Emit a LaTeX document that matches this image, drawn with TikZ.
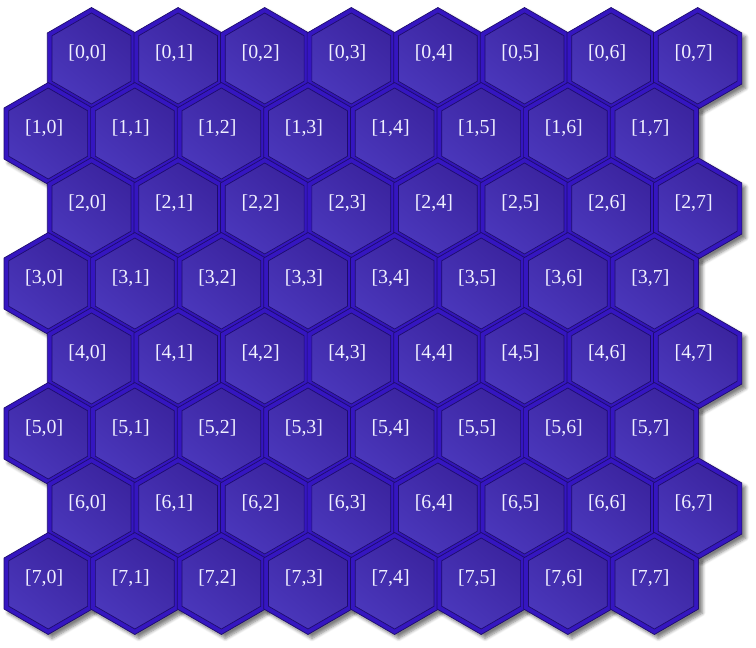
\documentclass[tikz,border=0pt]{standalone}
\usepackage{fontspec}
\setmainfont{Liberation Serif}
\definecolor{hexrim}{HTML}{3516C0}
\definecolor{hexedge}{HTML}{1E0C6E}
\definecolor{hexdark}{HTML}{3B249F}
\definecolor{hexlight}{HTML}{4A37BB}
\usetikzlibrary{shapes.geometric,shadows.blur}

\begin{document}
\begin{tikzpicture}[
  rim/.style={regular polygon, regular polygon sides=6, regular polygon rotate=30,
    minimum size=2.04cm, inner sep=0pt, outer sep=0pt, fill=hexrim,
    draw=hexedge, line width=0.4pt,
    blur shadow={shadow xshift=0.08cm, shadow yshift=-0.08cm,
      shadow blur steps=6, shadow opacity=50}},
  cell/.style={regular polygon, regular polygon sides=6, regular polygon rotate=30,
    minimum size=1.82cm, inner sep=0pt, outer sep=0pt,
    top color=hexdark, bottom color=hexlight, shading angle=-40,
    draw=hexedge, line width=0.4pt},
  tag/.style={text=white!94!blue, font=\fontsize{11.3}{13}\selectfont, inner sep=0pt}
]
  \useasboundingbox (0,0) rectangle (15.12,-12.96);
  % odd rows sit half a cell further left
  \foreach \r in {0,...,7} {
    \foreach \c in {0,...,7} {
      \pgfmathsetmacro\hx{1.83+1.732*\c-0.866*mod(\r,2)}
      \pgfmathsetmacro\hy{-1.17-1.5*\r}
      \node[rim] (rim-\r-\c) at (\hx,\hy) {};
      \node[cell] (cell-\r-\c) at (rim-\r-\c.center) {};
      \node[tag, xshift=-0.08cm, yshift=0.1cm] (tag-\r-\c) at (cell-\r-\c.center) {[\r,\c]};
    }
  }
\end{tikzpicture}
\end{document}
